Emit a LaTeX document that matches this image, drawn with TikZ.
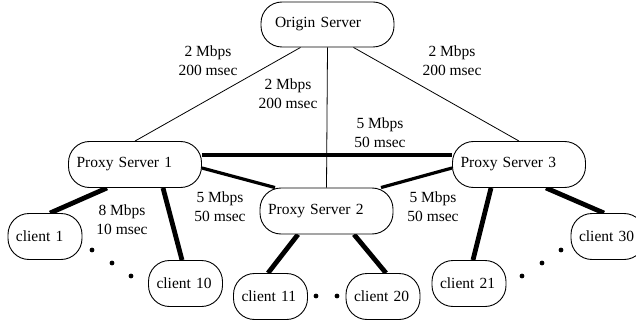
\documentclass[tikz,border=0pt]{standalone}
\usepackage{fontspec}
\setmainfont{Liberation Serif}
\usepackage{tikz}
\usetikzlibrary{backgrounds}
\tikzstyle{network} = [x = 1pt, y = -1pt, font=\fontsize{15.5}{19}\selectfont]
\tikzstyle{boxStyle} = [draw, fill=white, line width=.9pt, rounded corners = 21pt, align=left, inner ysep=0pt, minimum height=46pt]
\tikzstyle{serverStyle} = [boxStyle, inner xsep=8pt, text width=117pt]
\tikzstyle{originStyle} = [boxStyle, inner xsep=14pt, text width=105pt, minimum height=45pt]
\tikzstyle{clientStyle} = [boxStyle, inner xsep=8pt, text width=58pt]
\tikzstyle{linkText} = [align=center, inner sep=0pt]
\tikzstyle{originLink} = [line width=.8pt]
\tikzstyle{proxyLink} = [line width=3.2pt]
\tikzstyle{clientLink} = [line width=4.8pt]
\newcommand{\dotRadius}{2.4pt}
\newcommand{\ellipsisDot}[2]{\fill (#1, #2) circle (\dotRadius);}
\newcommand{\clientLink}[4]{\draw [clientLink] ([xshift=#2]#1.south) -- ([xshift=#4]#3.north);}

\begin{document}
\begin{tikzpicture}[network]
            \useasboundingbox (0,0) rectangle (636,323);
            \node [originStyle] (origin) at (327.5,24.5) {Origin Server};
            \node [serverStyle] (proxyOne) at (135,164.5) {Proxy Server 1};
            \node [serverStyle] (proxyTwo) at (326.5,211) {Proxy Server 2};
            \node [serverStyle] (proxyThree) at (519,164.5) {Proxy Server 3};
            \node [clientStyle] (clientOne) at (45,236.5) {client 1};
            \node [clientStyle] (clientTen) at (185.5,283.5) {client 10};
            \node [clientStyle] (clientEleven) at (270.5,296.5) {client 11};
            \node [clientStyle] (clientTwenty) at (383,296.5) {client 20};
            \node [clientStyle] (clientTwentyOne) at (469,283.5) {client 21};
            \node [clientStyle] (clientThirty) at (608,236.5) {client 30};

            \node [linkText] (originProxyOneText) at (208,60.5) {2 Mbps\\200 msec};
            \node [linkText] (originProxyTwoText) at (288,94) {2 Mbps\\200 msec};
            \node [linkText] (originProxyThreeText) at (452,60.5) {2 Mbps\\200 msec};
            \node [linkText] (proxyOneThreeText) at (380,132.5) {5 Mbps\\50 msec};
            \node [linkText] (proxyOneTwoText) at (220,206.5) {5 Mbps\\50 msec};
            \node [linkText] (proxyThreeTwoText) at (433,206.5) {5 Mbps\\50 msec};
            \node [linkText] (clientText) at (122,219.5) {8 Mbps\\10 msec};

            \begin{scope}[on background layer]
              \draw [originLink] ([xshift=-27pt]origin.south) -- (proxyOne.north);
              \draw [originLink] (origin.south) -- (proxyTwo.north);
              \draw [originLink] ([xshift=26pt]origin.south) -- (proxyThree.north);
              \draw [proxyLink] ([yshift=9.5pt]proxyOne.east) -- ([yshift=9.5pt]proxyThree.west);
              \draw [proxyLink] ([yshift=-3.5pt]proxyOne.east) -- ([xshift=-51.5pt]proxyTwo.north);
              \draw [proxyLink] ([yshift=-3.5pt]proxyThree.west) -- ([xshift=54.5pt]proxyTwo.north);
              \clientLink{proxyOne}{-28pt}{clientOne}{5pt}
              \clientLink{proxyOne}{28pt}{clientTen}{-3.5pt}
              \clientLink{proxyTwo}{-28.5pt}{clientEleven}{-2.5pt}
              \clientLink{proxyTwo}{27.5pt}{clientTwenty}{3pt}
              \clientLink{proxyThree}{-28pt}{clientTwentyOne}{4pt}
              \clientLink{proxyThree}{27pt}{clientThirty}{-4pt}
            \end{scope}

            \ellipsisDot{92}{250}
            \ellipsisDot{112}{263}
            \ellipsisDot{131}{276}
            \ellipsisDot{316}{296}
            \ellipsisDot{337}{296}
            \ellipsisDot{522}{276}
            \ellipsisDot{542}{263}
            \ellipsisDot{561}{250}
          \end{tikzpicture}
\end{document}
